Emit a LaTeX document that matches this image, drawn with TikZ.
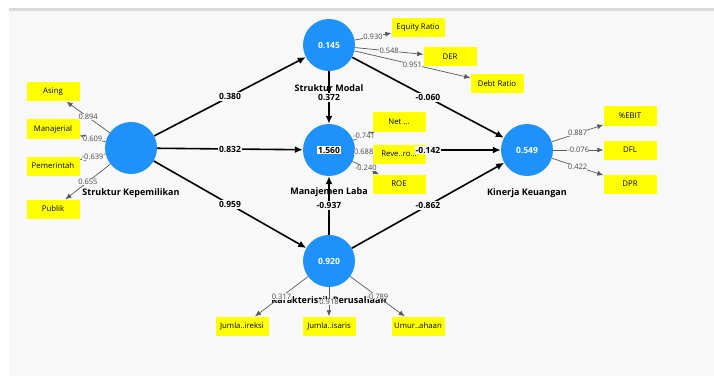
\documentclass[tikz,border=0pt]{standalone}
\usepackage{fontspec}
\setmainfont{Open Sans}
\usetikzlibrary{arrows.meta}

\definecolor{plsblue}{RGB}{30,146,250}
\definecolor{plsyellow}{RGB}{255,255,0}
\definecolor{panel}{RGB}{248,248,248}
\definecolor{loadgray}{RGB}{70,70,70}

\newcommand{\twodots}{..}
\newcommand{\threedots}{...}

\begin{document}
\begin{tikzpicture}[x=1pt,y=-1pt,
  latent/.style={circle,fill=plsblue,minimum size=52pt,inner sep=0pt,
    text=white,font=\fontsize{8.5}{10}\selectfont\bfseries},
  indic/.style={rectangle,fill=plsyellow,minimum width=53pt,
    minimum height=19pt,inner sep=0pt,font=\fontsize{7.8}{9}\selectfont},
  lvname/.style={inner sep=0pt,font=\fontsize{9}{10}\selectfont\bfseries},
  coef/.style={fill=panel,inner sep=1pt,font=\fontsize{8.5}{10}\selectfont\bfseries},
  load/.style={fill=panel,inner sep=0.3pt,text=loadgray,
    font=\fontsize{7.5}{9}\selectfont},
  inner/.style={line width=1.6pt,-{Latex[length=8pt,width=7pt]}},
  outer/.style={draw=black!65,line width=0.7pt,-{Latex[length=6pt,width=5pt]}}]

\useasboundingbox (0,0) rectangle (714,377);

\begin{scope} % panel of the model window
  \fill[panel] (9,11) rectangle (714,376);
  \draw[black!15,line width=2.5pt] (9,9.5) -- (714,9.5);
\end{scope}

\begin{scope} % latent variables
  \node[latent] (SK) at (131,148) {};
  \node[latent] (SM) at (329,45) {0.145};
  \node[latent] (ML) at (329,150) {};
  \node[latent] (KP) at (329,261) {0.920};
  \node[latent] (KK) at (527,150) {0.549};
  \node[fill=white,inner sep=1.2pt,font=\fontsize{8.5}{10}\selectfont\bfseries]
    (MLval) at (ML) {1.560};
\end{scope}

\begin{scope} % names of the latent variables
  \node[lvname] (SKname) at (131,193) {Struktur Kepemilikan};
  \node[lvname] (SMname) at (329,88) {Struktur Modal};
  \node[lvname] (MLname) at (329,192) {Manajemen Laba};
  \node[lvname] (KPname) at (329,300) {Karakteristik Perusahaan};
  \node[lvname] (KKname) at (527,193) {Kinerja Keuangan};
\end{scope}

\begin{scope} % structural paths, lines only
  \foreach \from/\to in {SK/SM, SK/ML, SK/KP, SM/ML, KP/ML, SM/KK, ML/KK, KP/KK}
    \draw[inner] (\from) -- (\to);
\end{scope}

\begin{scope} % indicators
  \foreach \nm/\x/\y/\txt in {asing/53/92/Asing, manaj/53/129/Manajerial,
      pemer/53/166/Pemerintah, publik/53/209/Publik,
      eqr/418/28/Equity Ratio, der/450/57/DER, debt/497/84/Debt Ratio,
      net/399/122/Net \threedots, reve/399/154/Reve\twodots ro\threedots,
      roe/399/184/ROE,
      ebit/630/116/\%EBIT, dfl/630/150/DFL, dpr/630/184/DPR,
      jdir/242/326/Jumla\twodots ireksi, jkom/329/326/Jumla\twodots isaris,
      umur/418/326/Umur\twodots ahaan}
    \node[indic] (\nm) at (\x,\y) {\txt};
\end{scope}

\begin{scope} % outer loadings
  \foreach \from/\to/\val in {SK/asing/0.894, SK/manaj/0.609,
      SK/pemer/-0.639, SK/publik/0.655,
      SM/eqr/0.930, SM/der/0.548, SM/debt/0.951,
      ML/net/-0.741, ML/reve/0.688, ML/roe/-0.240,
      KK/ebit/0.887, KK/dfl/-0.076, KK/dpr/0.422,
      KP/jdir/0.317, KP/jkom/0.918, KP/umur/-0.789}
    \draw[outer] (\from) -- node[load] {\val} (\to);
\end{scope}

\begin{scope} % path coefficients
  \foreach \from/\to/\val in {SK/SM/0.380, SK/ML/0.832, SK/KP/0.959,
      SM/ML/0.372, KP/ML/-0.937, SM/KK/-0.060, ML/KK/-0.142, KP/KK/-0.862}
    \path (\from) -- node[coef] {\val} (\to);
\end{scope}

\end{tikzpicture}
\end{document}
